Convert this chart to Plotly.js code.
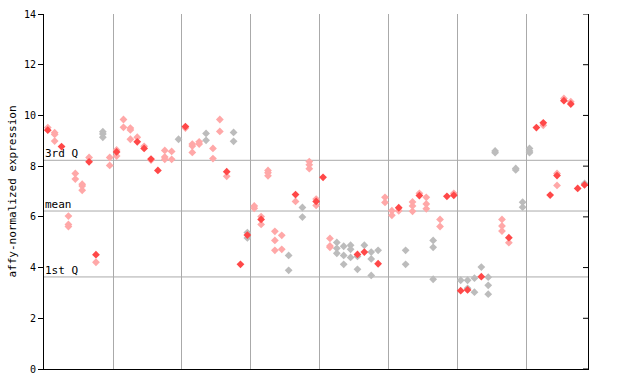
<!DOCTYPE html>
<html><head><meta charset="utf-8">
<script src="https://cdn.plot.ly/plotly-3.0.1.min.js"></script>
<style>body{margin:0;background:#fff}#chart{width:640px;height:384px}</style>
</head><body><div id="chart"></div>
<script>
// [sample index, value]
const solidPts = [[0,9.42],[2,8.77],[6,8.17],[7,4.51],[10,8.56],[13,8.96],[14,8.70],[15,8.28],[16,7.83],[20,9.56],
  [26,7.78],[28,4.13],[29,5.28],[31,5.90],[36,6.88],[39,6.61],[40,7.56],[45,4.52],[46,4.61],[48,4.15],
  [51,6.36],[54,6.84],[58,6.81],[59,6.85],[60,3.09],[61,3.12],[63,3.64],[67,5.18],[71,9.52],[72,9.71],
  [73,6.86],[74,7.63],[75,10.58],[76,10.45],[77,7.12],[78,7.26]];
const pinkPts = [[0,9.52],[1,9.32],[1,9.25],[1,8.99],[3,6.03],[3,5.70],[3,5.62],[4,7.71],[4,7.49],[5,7.29],[5,7.22],[5,7.05],
  [6,8.34],[7,4.21],[9,8.34],[9,8.03],[10,8.64],[10,8.40],[11,9.84],[11,9.53],[12,9.50],[12,9.43],[12,9.06],[13,9.14],
  [14,8.78],[15,8.24],[17,8.62],[17,8.36],[17,8.27],[18,8.58],[18,8.27],[20,9.50],[21,8.87],[21,8.79],[21,8.54],
  [22,8.96],[22,8.87],[24,8.70],[24,8.30],[25,9.84],[25,9.37],[26,7.60],[30,6.43],[30,6.34],[31,6.01],[31,5.70],
  [32,7.83],[32,7.74],[32,7.62],[33,5.43],[33,5.07],[33,4.68],[34,5.27],[34,4.72],[36,6.61],[38,8.18],[38,8.05],[38,7.90],
  [39,6.70],[39,6.45],[41,5.15],[41,4.85],[41,4.80],[49,6.77],[49,6.57],[50,6.24],[50,6.06],[51,6.24],[53,6.59],[53,6.43],[53,6.22],
  [54,6.93],[55,6.77],[55,6.51],[55,6.32],[57,5.90],[57,5.62],[59,6.93],[66,5.90],[66,5.64],[66,5.44],[67,4.98],[72,9.61],
  [74,7.71],[74,7.24],[75,10.67],[76,10.54]];
const grayPts = [[8,9.36],[8,9.27],[8,9.14],[19,9.06],[23,9.29],[23,9.02],[27,9.33],[27,8.98],[29,5.38],[29,5.17],[35,4.48],[35,3.89],
  [37,6.37],[37,5.99],[42,4.99],[42,4.76],[42,4.56],[43,4.84],[43,4.48],[43,4.13],[44,4.88],[44,4.72],[44,4.40],[45,4.44],[45,3.93],
  [46,4.88],[47,4.61],[47,4.34],[47,3.69],[48,4.68],[52,4.68],[52,4.13],[56,5.07],[56,4.80],[56,3.54],[60,3.50],[61,3.50],[61,3.18],
  [62,3.58],[62,3.03],[63,4.02],[64,3.62],[64,3.30],[64,2.95],[65,8.60],[65,8.53],[68,7.91],[68,7.85],[69,6.58],[69,6.38],
  [70,8.70],[70,8.60],[70,8.53],[78,7.32]];
const groupBreaks = [9.5,19.5,29.5,39.5,49.5,59.5,69.5];
const statLines = [{label:'3rd Q', v:8.23},{label:'mean', v:6.23},{label:'1st Q', v:3.63}];
const yTicks = [0,2,4,6,8,10,12,14];

const mono = 'DejaVu Sans Mono, monospace';
function tr(pts, color){
  return {type:'scatter', mode:'markers', x:pts.map(p=>p[0]), y:pts.map(p=>p[1]),
    marker:{symbol:'diamond', size:6, color:color, line:{width:0}}, hoverinfo:'skip', showlegend:false};
}
const data = [tr(grayPts,'#bcbcbc'), tr(pinkPts,'#ffa8a8'), tr(solidPts,'#ff4848')];

const shapes = statLines.map(s=>({type:'line', xref:'paper', x0:0, x1:1, yref:'y', y0:s.v, y1:s.v,
  line:{color:'#aaaaaa', width:1}, layer:'below'}));
yTicks.forEach(t=>shapes.push({type:'line', xref:'paper', x0:1, x1:1-5/544, yref:'y', y0:t, y1:t, line:{color:'#000', width:1}}));
const annotations = statLines.map(s=>({xref:'paper', x:0, xanchor:'left', yref:'y', y:s.v, yanchor:'bottom',
  text:s.label, showarrow:false, font:{family:mono, size:11, color:'#000'}, xshift:-1, yshift:-2}));

const layout = {
  width:640, height:384, margin:{l:44, r:52, t:14, b:15},
  paper_bgcolor:'#fff', plot_bgcolor:'#fff',
  xaxis:{range:[-0.55,78.5], tickvals:groupBreaks, showticklabels:false, ticks:'', showgrid:true,
    gridcolor:'#aaaaaa', gridwidth:1, zeroline:false, showline:true, linecolor:'#000', linewidth:1},
  yaxis:{range:[0,14], tickvals:yTicks, ticks:'outside', ticklen:5, tickcolor:'#000', showgrid:false, zeroline:false,
    showline:true, mirror:true, linecolor:'#000', linewidth:1,
    tickfont:{family:mono, size:10, color:'#000'},
    title:{text:'affy-normalized expression', font:{family:mono, size:11, color:'#000'}, standoff:5}},
  shapes:shapes, annotations:annotations
};
Plotly.newPlot('chart', data, layout, {staticPlot:true, displayModeBar:false});
</script></body></html>
